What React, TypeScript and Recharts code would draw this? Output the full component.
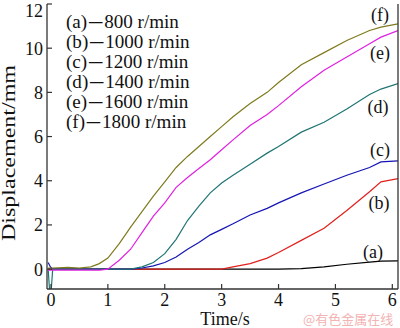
import React from 'react';
import { LineChart, Line, XAxis, YAxis } from 'recharts';

const time = [-0.05, -0.01, 0.03, 0.3, 0.5, 0.7, 0.85, 1.0, 1.2, 1.4, 1.6, 1.8, 2.0, 2.2, 2.4, 2.6, 2.8, 3.0, 3.2, 3.5, 3.8, 4.0, 4.4, 4.8, 5.2, 5.6, 5.8, 6.1];
const rpm800 = [0, 0, 0, 0, 0, 0, 0, 0, 0, 0, 0, 0, 0, 0, 0, 0, 0, 0, 0, 0, 0, 0, 0.02, 0.1, 0.22, 0.32, 0.36, 0.37];
const rpm1000 = [0, 0, 0, 0, 0, 0, 0, 0, 0, 0, 0, 0, 0, 0, 0, 0, 0, 0, 0.1, 0.25, 0.5, 0.75, 1.3, 1.85, 2.65, 3.5, 3.95, 4.1];
const rpm1200 = [0.3, 0.1, 0, 0, 0, 0, 0, 0, 0, 0, 0.05, 0.15, 0.3, 0.55, 0.9, 1.2, 1.55, 1.8, 2.05, 2.45, 2.75, 3.0, 3.45, 3.85, 4.25, 4.6, 4.85, 4.9];
const rpm1400 = [0, -1.5, 0, 0, 0, 0, 0, 0, 0, 0, 0.1, 0.3, 0.7, 1.35, 2.2, 2.85, 3.45, 3.9, 4.25, 4.75, 5.25, 5.55, 6.2, 6.65, 7.25, 7.9, 8.15, 8.4];
const rpm1600 = [-0.05, -0.05, -0.05, -0.05, -0.05, -0.05, -0.05, 0.0, 0.4, 0.9, 1.65, 2.4, 3.0, 3.7, 4.15, 4.55, 4.95, 5.4, 5.85, 6.5, 7.0, 7.4, 8.25, 9.0, 9.6, 10.2, 10.5, 10.8];
const rpm1800 = [0.05, 0.05, 0.05, 0.08, 0.05, 0.1, 0.25, 0.5, 1.15, 1.9, 2.6, 3.3, 3.95, 4.6, 5.1, 5.55, 6.0, 6.45, 6.9, 7.5, 8.0, 8.45, 9.25, 9.8, 10.35, 10.8, 10.95, 11.1];

const xTicks = [0, 1, 2, 3, 4, 5, 6];
const yTicks = [0, 2, 4, 6, 8, 10, 12];
const legendTags = ['(a)', '(b)', '(c)', '(d)', '(e)', '(f)'];
const legendSpeeds = ['800 r/min', '1000 r/min', '1200 r/min', '1400 r/min', '1600 r/min', '1800 r/min'];

const series = [
  { key: 'a', values: rpm800, color: '#000000' },
  { key: 'b', values: rpm1000, color: '#e0201c' },
  { key: 'c', values: rpm1200, color: '#1414b4' },
  { key: 'd', values: rpm1400, color: '#1f7474' },
  { key: 'e', values: rpm1600, color: '#e020e0' },
  { key: 'f', values: rpm1800, color: '#7f7a1c' },
];

const curveLabels = [
  { text: '(f)', x: 380, y: 15 },
  { text: '(e)', x: 380, y: 53 },
  { text: '(d)', x: 378, y: 107 },
  { text: '(c)', x: 380, y: 150 },
  { text: '(b)', x: 379, y: 203 },
  { text: '(a)', x: 373, y: 252 },
];

const rows = time.map((t, i) => {
  const r: Record<string, number> = { t };
  series.forEach((s) => { r[s.key] = s.values[i]; });
  return r;
});

const FONT = 'Liberation Serif, Times New Roman, serif';
const AX = '#333333';

export default function App() {
  return (
    <div style={{ position: 'absolute', left: 0, top: 0, width: 400, height: 328, fontFamily: FONT, background: '#fff' }}>
      <LineChart width={400} height={328} data={rows} margin={{ top: 4, right: 1, left: 0, bottom: 0 }}>
        <XAxis
          dataKey="t"
          type="number"
          domain={[-0.07, 6.1]}
          allowDataOverflow
          ticks={xTicks}
          height={39}
          tickSize={-5}
          tickMargin={9}
          axisLine={{ stroke: AX, strokeWidth: 1.3 }}
          tickLine={{ stroke: AX, strokeWidth: 1.2 }}
          tick={{ fill: '#111', fontSize: 18, fontFamily: FONT }}
          label={{
            content: () => (
              <text x={225} y={325} textAnchor="middle" fontSize={18} fontFamily={FONT} fill="#111">Time/s</text>
            ),
          }}
        />
        <XAxis xAxisId="top" orientation="top" dataKey="t" type="number" domain={[-0.07, 6.1]} height={0} tick={false} tickLine={false} axisLine={{ stroke: AX, strokeWidth: 1.3 }} />
        <YAxis
          type="number"
          domain={[-0.9, 12]}
          allowDataOverflow
          ticks={yTicks}
          width={47}
          tickSize={-5}
          tickMargin={9}
          axisLine={{ stroke: AX, strokeWidth: 1.3 }}
          tickLine={{ stroke: AX, strokeWidth: 1.2 }}
          tick={{ fill: '#111', fontSize: 18, fontFamily: FONT }}
          label={{
            content: () => (
              <text x={15} y={153} transform="rotate(-90 15 153)" textAnchor="middle" fontSize={18} fontFamily={FONT} fill="#111" textLength={176} lengthAdjust="spacingAndGlyphs">Displacement/mm</text>
            ),
          }}
        />
        <YAxis yAxisId="right" orientation="right" domain={[-0.9, 12]} width={1} tick={false} tickLine={false} axisLine={{ stroke: AX, strokeWidth: 1.3 }} />
        {series.map((s) => (
          <Line key={s.key} dataKey={s.key} type="linear" stroke={s.color} strokeWidth={1.2} dot={false} isAnimationActive={false} />
        ))}
      </LineChart>
      <div style={{ position: 'absolute', left: 66, top: 12, fontSize: 18, lineHeight: '20px', color: '#111', whiteSpace: 'nowrap', transform: 'scaleX(1.06)', transformOrigin: 'left top' }}>
        {legendTags.map((tag, i) => (
          <div key={tag}>
            {tag}
            <span style={{ fontFamily: 'Noto Sans CJK SC', fontSize: 14, margin: '0 1px' }}>一</span>
            {legendSpeeds[i]}
          </div>
        ))}
      </div>
      {curveLabels.map((c) => (
        <div key={c.text} style={{ position: 'absolute', left: c.x, top: c.y, transform: 'translate(-50%, -50%)', fontSize: 18, lineHeight: 1, color: '#111' }}>
          {c.text}
        </div>
      ))}
      <div style={{ position: 'absolute', left: 303, top: 312, fontSize: 13, lineHeight: 1, color: '#f2b3b3', fontFamily: 'Noto Sans CJK SC', whiteSpace: 'nowrap' }}>
        @有色金属在线
      </div>
    </div>
  );
}
